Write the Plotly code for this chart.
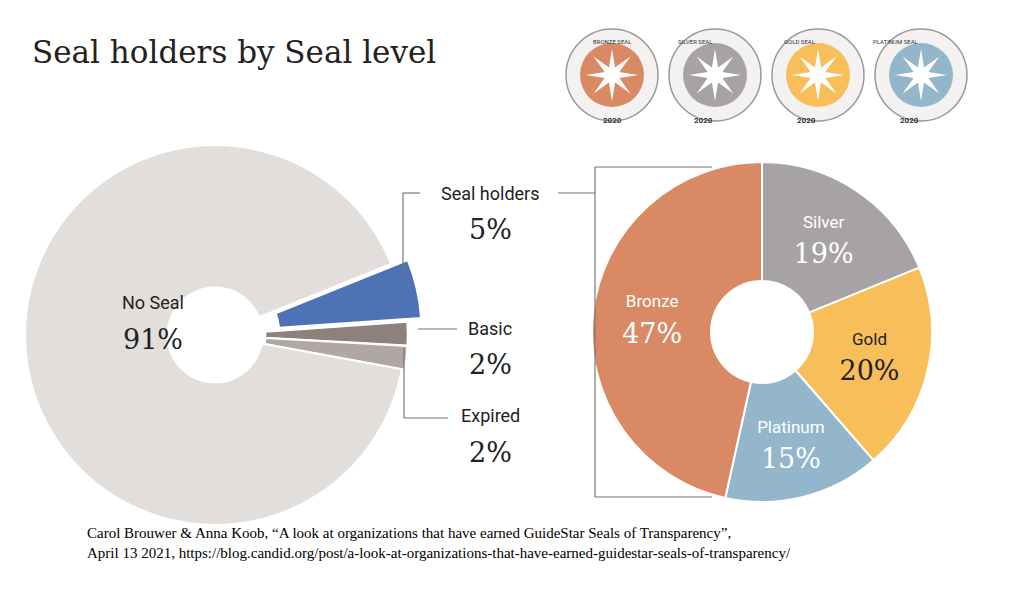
import math
import plotly.graph_objects as go

left_labels = ["Seal holders", "Basic", "Expired", "No Seal"]
left_values = [5, 2, 2, 91]
left_colors = ["#4F72B5", "#8C817B", "#B0A7A2", "#E2DEDB"]

right_labels = ["Silver", "Gold", "Platinum", "Bronze"]
right_values = [19, 20, 15, 47]
right_colors = ["#A7A3A5", "#F7BE5A", "#93B6CB", "#D98A65"]
right_text_colors = ["white", "#222222", "white", "white"]

badge_names = ["BRONZE", "SILVER", "GOLD", "PLATINUM"]
badge_colors = ["#D98A65", "#A7A3A5", "#F7BE5A", "#93B6CB"]

W, H = 1035, 605
OFF = 8  # page body margin
def px(x): return (x - OFF) / W
def py(y): return 1 - (y - OFF) / H

fig = go.Figure()
fig.add_trace(go.Pie(
    labels=left_labels, values=left_values, sort=False, direction="clockwise",
    rotation=68, hole=0.25, pull=[0.09, 0.015, 0.015, 0],
    marker=dict(colors=left_colors, line=dict(color="white", width=2)),
    textinfo="none", hoverinfo="label+percent", showlegend=False,
    domain=dict(x=[0, px(422)], y=[py(542), py(128)]),
))
fig.add_trace(go.Pie(
    labels=right_labels, values=right_values, sort=False, direction="clockwise",
    rotation=0, hole=0.3,
    marker=dict(colors=right_colors, line=dict(color="white", width=2)),
    texttemplate="<span style='font-family:Roboto;font-size:17px'>%{label}</span><br>%{percent:.0%}",
    textposition="inside", insidetextorientation="horizontal",
    textfont=dict(size=27, family="DejaVu Serif", color=right_text_colors),
    showlegend=False,
    domain=dict(x=[px(592), px(932)], y=[py(502), py(162)]),
))

ann = []
def label(x, y, name, pct):
    ann.append(dict(x=px(x), y=py(y), xref="paper", yref="paper", text=name, showarrow=False,
                    font=dict(family="Roboto", size=18, color="#222"), xanchor="center", yanchor="middle"))
    ann.append(dict(x=px(x), y=py(y + 36), xref="paper", yref="paper", text=pct, showarrow=False,
                    font=dict(family="DejaVu Serif", size=27, color="#222"), xanchor="center", yanchor="middle"))
label(490, 193, "Seal holders", "5%")
label(490, 328, "Basic", "2%")
label(490, 416, "Expired", "2%")
label(153, 303, "No Seal", "91%")
ann.append(dict(x=px(30), y=py(52), xref="paper", yref="paper", text="Seal holders by Seal level", showarrow=False,
                font=dict(family="DejaVu Serif", size=31, color="#222"), xanchor="left", yanchor="middle"))
ann.append(dict(x=px(85), y=py(543), xref="paper", yref="paper",
                text="Carol Brouwer &amp; Anna Koob, “A look at organizations that have earned GuideStar Seals of Transparency”,<br>April 13 2021, https://blog.candid.org/post/a-look-at-organizations-that-have-earned-guidestar-seals-of-transparency/",
                showarrow=False, align="left", font=dict(family="Liberation Serif", size=15, color="black"),
                xanchor="left", yanchor="middle"))

shapes = []
def line(x0, y0, x1, y1):
    shapes.append(dict(type="line", xref="paper", yref="paper", x0=px(x0), y0=py(y0), x1=px(x1), y1=py(y1),
                       line=dict(color="#777", width=1.2)))
line(403, 193, 420, 193); line(403, 193, 403, 276)
line(558, 193, 595, 193)
line(595, 167, 595, 497); line(595, 167, 712, 167); line(595, 497, 712, 497)
line(418, 329, 457, 329)
line(404, 348, 404, 418); line(404, 418, 448, 418)

def star_path(cx, cy, ro, ri, n=8):
    pts = []
    for k in range(2 * n):
        r = ro if k % 2 == 0 else ri
        a = math.pi * k / n - math.pi / 2
        pts.append((px(cx + r * math.cos(a)), py(cy + r * math.sin(a))))
    return "M " + " L ".join(f"{x:.5f},{y:.5f}" for x, y in pts) + " Z"

for i, (nm, c) in enumerate(zip(badge_names, badge_colors)):
    cx, cy, r = 612 + i * 103, 75, 46
    shapes.append(dict(type="circle", xref="paper", yref="paper", x0=px(cx - r), x1=px(cx + r), y0=py(cy + r), y1=py(cy - r),
                       fillcolor="#F4F2F1", line=dict(color="#999999", width=1.5)))
    r2 = 32
    shapes.append(dict(type="circle", xref="paper", yref="paper", x0=px(cx - r2), x1=px(cx + r2), y0=py(cy + r2), y1=py(cy - r2),
                       fillcolor=c, line=dict(width=0)))
    shapes.append(dict(type="path", xref="paper", yref="paper", path=star_path(cx, cy, 26, 8),
                       fillcolor="white", line=dict(width=0)))
    ann.append(dict(x=px(cx), y=py(cy - 39), xref="paper", yref="paper", text=f"{nm} SEAL", showarrow=False,
                    font=dict(size=6, color="#333", family="Roboto")))
    ann.append(dict(x=px(cx), y=py(cy + 39), xref="paper", yref="paper", text="<b>2020</b>", showarrow=False,
                    font=dict(size=8, color="#333", family="Roboto")))

fig.update_layout(width=W, height=H, margin=dict(l=0, r=0, t=0, b=0), paper_bgcolor="white",
                  annotations=ann, shapes=shapes)
fig.write_html("out.html")
